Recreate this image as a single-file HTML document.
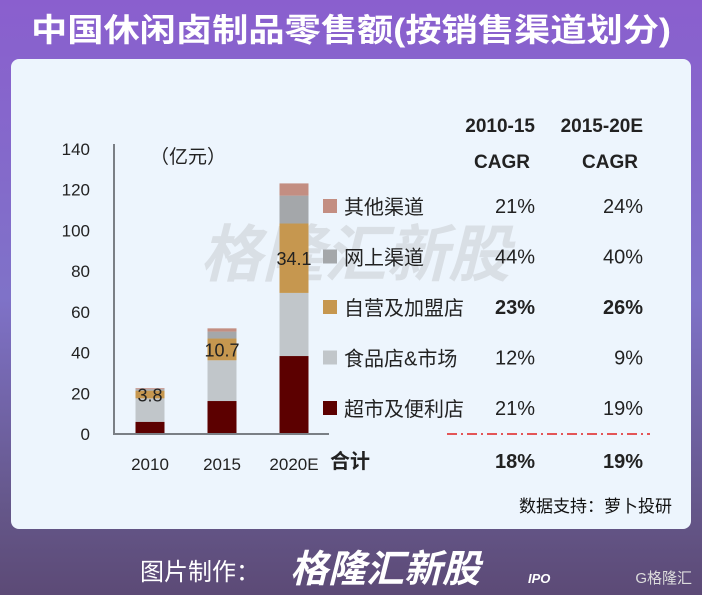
<!DOCTYPE html>
<html><head><meta charset="utf-8"><style>
body{margin:0;width:702px;height:595px;overflow:hidden;font-family:"Liberation Sans","Noto Sans CJK SC",sans-serif}
</style></head><body>
<svg width="702" height="595" viewBox="0 0 702 595" xmlns="http://www.w3.org/2000/svg">
<defs>
<linearGradient id="bg" x1="0" y1="0" x2="0" y2="1">
<stop offset="0" stop-color="#8a5fce"/><stop offset="0.5" stop-color="#7f72c8"/><stop offset="0.85" stop-color="#65578a"/><stop offset="1" stop-color="#5c4a76"/>
</linearGradient>
</defs>
<rect width="702" height="595" fill="url(#bg)"/>
<text x="351" y="41" text-anchor="middle" font-size="32" font-weight="bold" fill="#fff" textLength="640" lengthAdjust="spacingAndGlyphs">中国休闲卤制品零售额(按销售渠道划分)</text>
<rect x="11" y="59" width="680" height="470" rx="8" fill="#edf5fd"/>
<text x="355" y="276" font-size="62" font-weight="bold" font-style="italic" fill="#cdd1d6" opacity="0.6" text-anchor="middle">格隆汇新股</text>
<text x="150" y="163" font-size="19" fill="#222">（亿元）</text>
<g id="plot"></g>
<g font-size="19" fill="#222">
<text x="535" y="132" text-anchor="end" font-weight="bold">2010-15</text>
<text x="643" y="132" text-anchor="end" font-weight="bold">2015-20E</text>
<text x="530" y="168" text-anchor="end" font-weight="bold">CAGR</text>
<text x="638" y="168" text-anchor="end" font-weight="bold">CAGR</text>
</g>
<g id="legend"></g>
<line x1="447" y1="434" x2="650" y2="434" stroke="#e02020" stroke-width="1.5" stroke-dasharray="10,4,2,4"/>
<text x="330" y="468" font-size="20" font-weight="bold" fill="#222">合计</text>
<text x="535" y="468" font-size="20" font-weight="bold" fill="#222" text-anchor="end">18%</text>
<text x="643" y="468" font-size="20" font-weight="bold" fill="#222" text-anchor="end">19%</text>
<text x="672" y="512" font-size="17" fill="#111" text-anchor="end">数据支持：萝卜投研</text>
<text x="140" y="580" font-size="24" fill="#fff">图片制作：</text>
<text x="290" y="582" font-size="38" font-weight="bold" font-style="italic" fill="#fff">格隆汇新股</text>
<text x="528" y="583" font-size="13" font-weight="bold" font-style="italic" fill="#fff">IPO</text>
<text x="692" y="583" font-size="15" fill="#ddd" text-anchor="end">G格隆汇</text>
</svg>
<script>
const years=["2010","2015","2020E"];
const supermarket=[6,16.2,38.3];
const foodStore=[11.5,20,31];
const selfOwned=[3.8,10.7,34.1];
const online=[0.7,3.4,13.7];
const other=[0.5,1.6,6];
const yTicks=[0,20,40,60,80,100,120,140];
const seriesNames=["超市及便利店","食品店&市场","自营及加盟店","网上渠道","其他渠道"];
const cagr1=["21%","12%","23%","44%","21%"];
const cagr2=["19%","9%","26%","40%","24%"];
const NS="http://www.w3.org/2000/svg";
const colors=["#5c0000","#c1c6ca","#c6974f","#a4a7aa","#c38e82"];
const series=[supermarket,foodStore,selfOwned,online,other];
const y0=434,y1=149,vmax=140;
const yScale=v=>y0-(v/vmax)*(y0-y1);
const xCenter=i=>150+i*72;
const bw=29;
const plot=document.getElementById('plot');
function mk(tag,attrs,parent){const e=document.createElementNS(NS,tag);for(const k in attrs)e.setAttribute(k,attrs[k]);parent.appendChild(e);return e;}
yTicks.forEach(t=>{
  const tx=mk('text',{x:90,y:yScale(t)+6,'text-anchor':'end','font-size':17,fill:'#222'},plot);
  tx.textContent=t;
  
  
});
const labels=[];
years.forEach((yr,i)=>{
  let acc=0;
  series.forEach((s,k)=>{
    const v=s[i];
    const r=mk('rect',{x:xCenter(i)-bw/2,y:yScale(acc+v),width:bw,height:yScale(acc)-yScale(acc+v),fill:colors[k]},plot);
    
    
    if(k===2) labels.push([xCenter(i),yScale(acc+v/2)+7,v]);
    acc+=v;
  });
  const xl=mk('text',{x:xCenter(i),y:470,'text-anchor':'middle','font-size':17,fill:'#222'},plot);
  xl.textContent=yr;
  
  
});
labels.forEach(l=>{
  const lb=mk('text',{x:l[0],y:l[1],'text-anchor':'middle','font-size':18,fill:'#222'},plot);
  lb.textContent=l[2];
  
  
});
const ax=mk('path',{d:`M114 ${y1-5} V${y0} H329`,fill:'none',stroke:'#7a7f85','stroke-width':2},plot);


const lg=document.getElementById('legend');
seriesNames.forEach((n,k)=>{
  const cy=408-k*50.5;
  const sq=mk('rect',{x:323,y:cy-7,width:14,height:14,fill:colors[k]},lg);
  
  
  const t=mk('text',{x:344,y:cy+8,'font-size':20,fill:'#222'},lg);
  t.textContent=n;
  
  
  const bold=k===2?'bold':'normal';
  const a=mk('text',{x:535,y:cy+7,'text-anchor':'end','font-size':20,'font-weight':bold,fill:'#222'},lg);
  a.textContent=cagr1[k];
  
  
  const b=mk('text',{x:643,y:cy+7,'text-anchor':'end','font-size':20,'font-weight':bold,fill:'#222'},lg);
  b.textContent=cagr2[k];
  
  
});
</script>
</body></html>
